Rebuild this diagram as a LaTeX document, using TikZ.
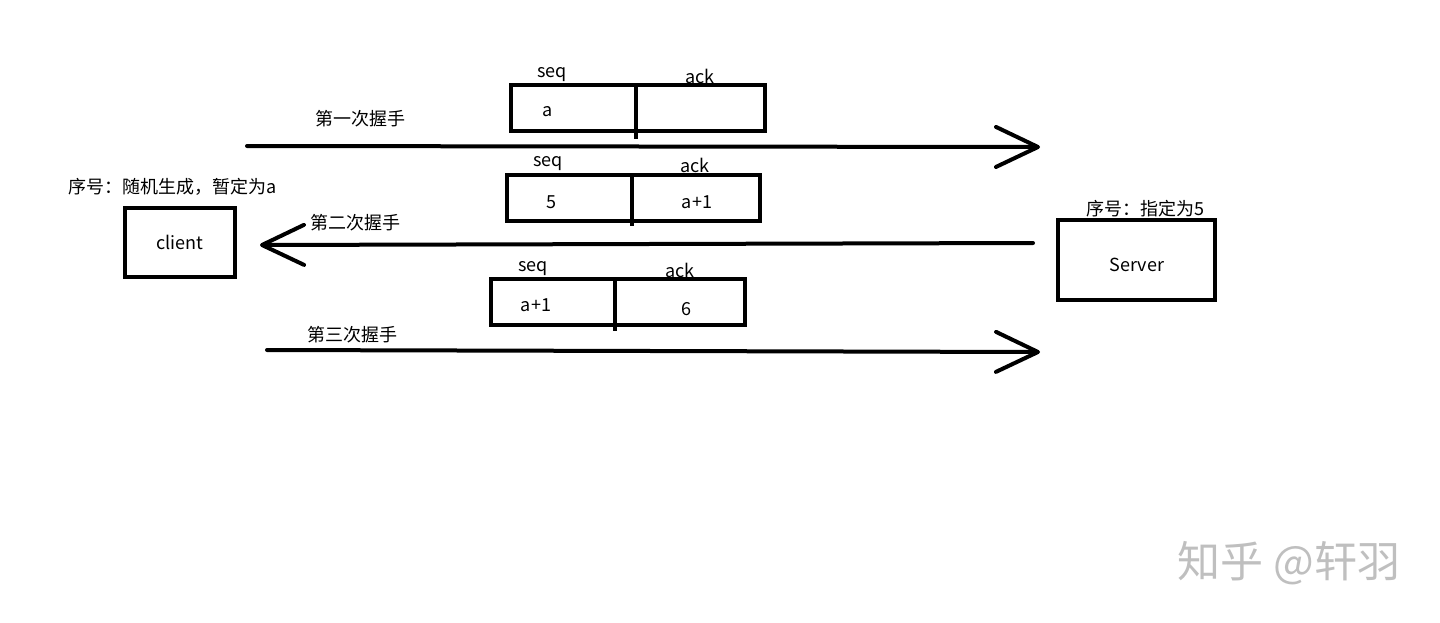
\documentclass[tikz,border=0pt]{standalone}
\usepackage{fontspec}
\setmainfont{Noto Sans CJK SC}
\usetikzlibrary{positioning}
\usetikzlibrary{arrows.meta}
\tikzset{hostbox/.style = {draw, line width=2pt, inner sep=0, outer sep=0, anchor=north west}}
\tikzset{field/.style = {draw, line width=2pt, minimum height=23pt, inner sep=0, outer sep=0}}
\tikzset{txt/.style = {font=\fontsize{9}{11}\selectfont, inner sep=0}}
\tikzset{shake/.style = {line width=2pt, line cap=round,
    -{Straight Barb[length=21pt,width=20pt,line cap=round,line join=round]}}}
\tikzset{every picture/.style={x=0.5pt, y=-0.5pt}}

\begin{document}
\begin{tikzpicture}
    \useasboundingbox (0,0) rectangle (1440,622);
    % hosts
    \node[hostbox, minimum width=55pt, minimum height=34.5pt] (client) at (125,208) {};
    \node[txt] at (client.center) {client};
    \node[txt, anchor=south west] (cnote) at (68,196) {序号：随机生成，暂定为a};
    \node[hostbox, minimum width=78.5pt, minimum height=40pt] (server) at (1058,220) {};
    \node[txt] at (1137,265) {Server};
    \node[txt, anchor=south] (snote) at (1145,217) {序号：指定为5};
    % handshakes
    \coordinate (s1) at (247,146);  \coordinate (e1) at (1040,147);
    \coordinate (s2) at (1033,243); \coordinate (e2) at (260,245);
    \coordinate (s3) at (267,350);  \coordinate (e3) at (1040,352);
    \draw[shake] (s1) -- (e1);
    \draw[shake] (s2) -- (e2);
    \draw[shake] (s3) -- (e3);
    \node[txt] (h1) at (360,119) {第一次握手};
    \node[txt] (h2) at (355,223) {第二次握手};
    \node[txt] (h3) at (352,335) {第三次握手};
    % packets
    \node[field, minimum width=62.5pt, anchor=north west] (seq1) at (511,85) {};
    \node[field, minimum width=64.5pt, anchor=west] (ack1) at (seq1.east) {};
    \node[field, minimum width=62.5pt, anchor=north west] (seq2) at (507,175) {};
    \node[field, minimum width=64pt, anchor=west] (ack2) at (seq2.east) {};
    \node[field, minimum width=62pt, anchor=north west] (seq3) at (491,279) {};
    \node[field, minimum width=65pt, anchor=west] (ack3) at (seq3.east) {};
    \draw[line width=2pt] (seq1.north east) -- ++(0,54);
    \draw[line width=2pt] (seq2.north east) -- ++(0,51);
    \draw[line width=2pt] (seq3.north east) -- ++(0,52);
    \node[txt] at (552,75) {seq};  \node[txt] at (700,76) {ack};
    \node[txt] at (548,112) {a};
    \node[txt] at (548,164) {seq}; \node[txt] at (695,165) {ack};
    \node[txt] at (551,202) {5};   \node[txt] at (697,202) {a+1};
    \node[txt] at (533,269) {seq}; \node[txt] at (680,270) {ack};
    \node[txt] at (536,305) {a+1}; \node[txt] at (686,309) {6};
    % watermark
    \node[txt, font=\fontsize{21.5}{24}\selectfont, text=black!25] (wm) at (1289,563) {知乎 @轩羽};
\end{tikzpicture}
\end{document}
